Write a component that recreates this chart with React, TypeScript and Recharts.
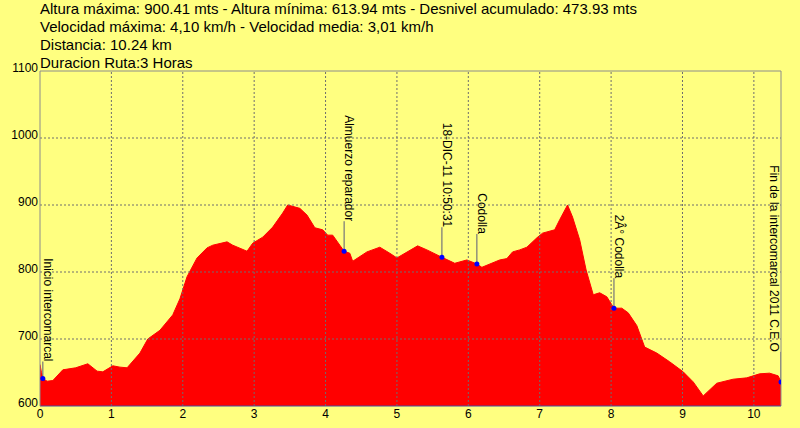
import { ComposedChart, Area, Scatter, XAxis, YAxis, ReferenceLine } from 'recharts';

const distanceKm = [
  0.0, 0.02, 0.04, 0.1, 0.18, 0.32, 0.5, 0.67, 0.8, 0.88, 1.02, 1.12, 1.22, 1.4, 1.51, 1.68, 1.86, 1.96,
  2.06, 2.2, 2.34, 2.42, 2.62, 2.7, 2.9, 2.98, 3.12, 3.26, 3.4, 3.47, 3.64, 3.74, 3.85, 3.96, 4.03, 4.1,
  4.2, 4.26, 4.34, 4.38, 4.58, 4.76, 4.9, 5.0, 5.29, 5.42, 5.63, 5.81, 5.98, 6.12, 6.19, 6.44, 6.54, 6.62,
  6.72, 6.82, 6.96, 7.04, 7.21, 7.28, 7.39, 7.46, 7.56, 7.65, 7.75, 7.84, 7.94, 8.04, 8.15, 8.24, 8.36,
  8.47, 8.64, 8.82, 9.01, 9.15, 9.29, 9.48, 9.71, 9.9, 10.08, 10.22, 10.34, 10.38,
];
const altitude = [
  662, 650, 641, 637, 638, 654, 657, 663, 652, 651, 660, 658, 657, 679, 700, 713, 736, 760,
  793, 821, 836, 840, 845, 840, 831, 843, 852, 867, 888, 900, 895, 885, 866, 863, 855, 855,
  840, 831, 828, 816, 830, 837, 828, 821, 839, 833, 822, 813, 818, 812, 807, 818, 820, 830,
  833, 837, 851, 858, 863, 878, 900, 882, 848, 803, 766, 769, 763, 746, 746, 739, 720,
  688, 679, 666, 651, 636, 615, 634, 640, 642, 648, 649, 645, 636,
];

const markerKm = [0.04, 4.26, 5.63, 6.12, 8.04, 10.38];
const markerAlt = [641, 831, 822, 812, 746, 636];
const markerText = [
  'Inicio intercomarcal',
  'Almuerzo reparador',
  '18-DIC-11 10:50:31',
  'Codolla',
  '2Â° Codolla',
  'Fin de la intercomarcal 2011 C.E.O',
];

const xTicks = [0, 1, 2, 3, 4, 5, 6, 7, 8, 9, 10];
const yTicks = [600, 700, 800, 900, 1000, 1100];
const gridX = [1, 2, 3, 4, 5, 6, 7, 8, 9, 10];
const gridY = [700, 800, 900, 1000];

const headerLines = [
  'Altura máxima: 900.41 mts - Altura mínima: 613.94 mts - Desnivel acumulado: 473.93 mts',
  'Velocidad máxima: 4,10 km/h - Velocidad media: 3,01 km/h',
  'Distancia: 10.24 km',
  'Duracion Ruta:3 Horas',
];

const profile = distanceKm.map((km, i) => ({ km, alt: altitude[i] }));
const markers = markerKm.map((km, i) => ({ km, alt: markerAlt[i], text: markerText[i] }));

const FONT = 'Arial, "Liberation Sans", sans-serif';

const MarkerShape = (props: any) => {
  const { cx, cy, payload } = props;
  const last = payload.km === markerKm[markerKm.length - 1];
  const first = payload.km === markerKm[0];
  const gap = first ? 17 : 30;
  const ty = cy - gap;
  const tx = last ? cx - 11 : cx + 1;
  return (
    <g>
      <line x1={cx} y1={ty} x2={cx} y2={cy} stroke="#5a5a78" strokeWidth={1} />
      <text
        x={tx}
        y={ty}
        textAnchor="end"
        transform={`rotate(90, ${tx}, ${ty})`}
        fontSize={12}
        fontFamily={FONT}
        fill="#000"
      >
        {payload.text}
      </text>
      <circle cx={cx} cy={cy} r={2.5} fill="#0000ff" />
    </g>
  );
};

const YTick = (props: any) => (
  <text x={38} y={props.y + 1} textAnchor="end" fontSize={12} fontFamily={FONT} fill="#000">
    {props.payload.value}
  </text>
);

const XTick = (props: any) => (
  <text x={props.x} y={418} textAnchor="middle" fontSize={12} fontFamily={FONT} fill="#000">
    {props.payload.value}
  </text>
);

const App = () => {
  return (
    <div style={{ position: 'absolute', left: 0, top: 0, width: 800, height: 428, background: '#ffff80' }}>
      {headerLines.map((line, i) => (
        <div
          key={i}
          style={{
            position: 'absolute',
            left: 40,
            top: i * 18,
            fontFamily: FONT,
            fontSize: 15,
            lineHeight: '18px',
            color: '#000',
            whiteSpace: 'nowrap',
          }}
        >
          {line}
        </div>
      ))}
      <ComposedChart
        width={800}
        height={428}
        data={profile}
        margin={{ top: 71, right: 19, left: 0, bottom: 0 }}
        style={{ position: 'absolute', left: 0, top: 0 }}
      >
        <XAxis
          dataKey="km"
          type="number"
          domain={[0, 10.38]}
          ticks={xTicks}
          height={22}
          tickLine={false}
          axisLine={{ stroke: '#4848a0' }}
          tick={<XTick />}
          allowDataOverflow
        />
        <YAxis
          type="number"
          domain={[600, 1100]}
          ticks={yTicks}
          width={40}
          tickLine={false}
          axisLine={{ stroke: '#8c8c8c' }}
          tick={<YTick />}
          allowDataOverflow
        />
        <Area
          type="linear"
          dataKey="alt"
          stroke="#ff0000"
          strokeWidth={1}
          fill="#ff0000"
          fillOpacity={1}
          baseValue={600}
          isAnimationActive={false}
          dot={false}
          activeDot={false}
        />
        {gridX.map((v) => (
          <ReferenceLine key={`gx${v}`} x={v} stroke="#6e6e6e" strokeDasharray="2 2" />
        ))}
        {gridY.map((v) => (
          <ReferenceLine key={`gy${v}`} y={v} stroke="#6e6e6e" strokeDasharray="2 2" />
        ))}
        <ReferenceLine y={1100} stroke="#8c8c8c" />
        <ReferenceLine x={10.38} stroke="#8c8c8c" />
        <Scatter data={markers} dataKey="alt" shape={<MarkerShape />} isAnimationActive={false} />
      </ComposedChart>
    </div>
  );
};

export default App;
